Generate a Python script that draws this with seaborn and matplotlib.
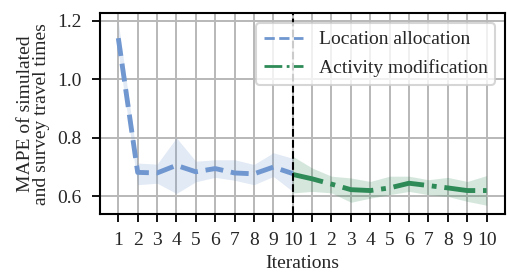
import matplotlib
matplotlib.use("Agg")
import matplotlib.pyplot as plt
from matplotlib.lines import Line2D
import seaborn as sns
import numpy as np
import pandas as pd

# Data
loc_x = [1, 2, 3, 4, 5, 6, 7, 8, 9, 10]
loc_mean = [1.14, 0.682, 0.68, 0.706, 0.684, 0.695, 0.68, 0.677, 0.70, 0.678]
loc_low = [1.09, 0.64, 0.645, 0.61, 0.65, 0.665, 0.655, 0.64, 0.668, 0.617]
loc_high = [1.195, 0.714, 0.71, 0.80, 0.72, 0.725, 0.725, 0.709, 0.749, 0.73]

act_x = [10, 11, 12, 13, 14, 15, 16, 17, 18, 19, 20]
act_mean = [0.675, 0.66, 0.642, 0.623, 0.62, 0.629, 0.645, 0.637, 0.629, 0.62, 0.62]
act_low = [0.612, 0.617, 0.612, 0.58, 0.594, 0.606, 0.617, 0.606, 0.60, 0.583, 0.57]
act_high = [0.737, 0.697, 0.669, 0.663, 0.651, 0.669, 0.669, 0.657, 0.665, 0.651, 0.671]

tick_pos = list(range(1, 21))
tick_labels = [str(i) for i in range(1, 11)] + [str(i) for i in range(1, 11)]
series_names = ["Location allocation", "Activity modification"]

sns.set_style("ticks")
plt.rcParams['font.family'] = ['Liberation Serif', 'DejaVu Serif']
plt.rcParams['font.size'] = 14

fig = plt.figure(figsize=(5.07, 2.76), dpi=100)
ax = fig.add_axes([0.197, 0.2236, 0.799, 0.7284])

blue = "#7097d0"
green = "#2e8b57"

df_loc = pd.DataFrame({"x": loc_x, "y": loc_mean})
df_act = pd.DataFrame({"x": act_x, "y": act_mean})

ax.fill_between(loc_x, loc_low, loc_high, color=blue, alpha=0.2, linewidth=0)
ax.fill_between(act_x, act_low, act_high, color=green, alpha=0.2, linewidth=0)

sns.lineplot(data=df_loc, x="x", y="y", ax=ax, color=blue, linewidth=3.5,
             linestyle="--", legend=False)
sns.lineplot(data=df_act, x="x", y="y", ax=ax, color=green, linewidth=3.5,
             linestyle="-.", legend=False)

ax.axvline(10, color="black", linestyle="--", linewidth=1.5, zorder=3)

ax.set_xticks(tick_pos)
ax.set_xticklabels(tick_labels)
ax.set_yticks([0.6, 0.8, 1.0, 1.2])
ax.set_xlim(0.05, 20.95)
ax.set_ylim(0.539, 1.225)
ax.grid(True, color="#b8b8b8", linewidth=1.4)
ax.set_axisbelow(True)
for s in ax.spines.values():
    s.set_visible(True)
    s.set_color("black")
    s.set_linewidth(1.5)
ax.tick_params(axis="both", direction="out", length=6, width=1.3, color="black",
               labelsize=14, pad=7)

ax.set_xlabel("Iterations", fontsize=14, labelpad=4)
ax.set_ylabel("MAPE of simulated\nand survey travel times", fontsize=14,
              labelpad=5, linespacing=0.95)

handles = [Line2D([], [], color=blue, lw=2.0, linestyle="--"),
           Line2D([], [], color=green, lw=2.0, linestyle="-.")]
leg = ax.legend(handles, series_names, loc="upper right", frameon=True,
                fontsize=14, handlelength=2.0, labelspacing=0.55)
leg.get_frame().set_edgecolor("#cccccc")
leg.get_frame().set_linewidth(1.5)

fig.savefig("out.png", dpi=100)
